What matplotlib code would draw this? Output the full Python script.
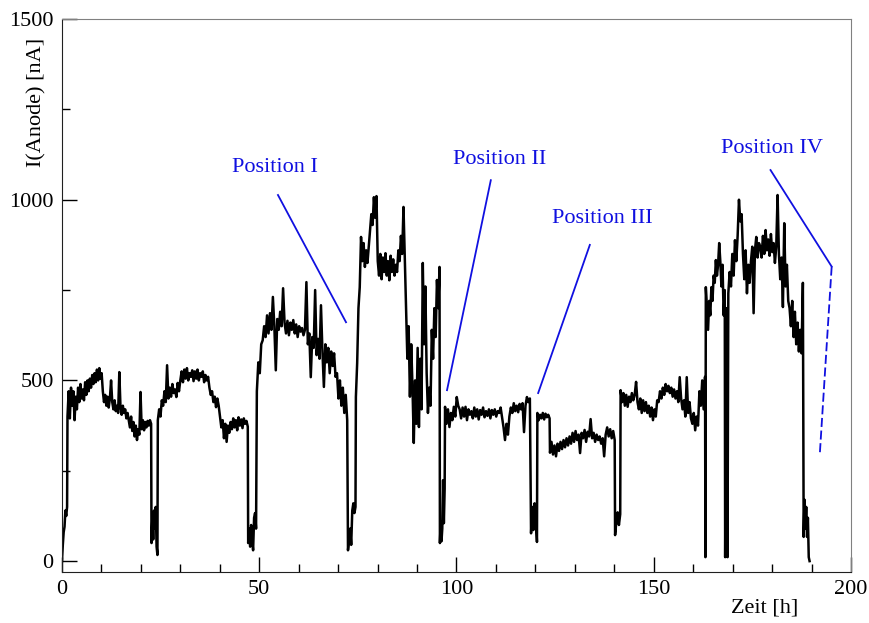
import numpy as np
import matplotlib
matplotlib.use('Agg')
import matplotlib.pyplot as plt
from matplotlib.ticker import MultipleLocator

# Anode current readings.
# Each piece: (start hour, end hour, readings in nA), readings evenly spaced in time.
seg_start = [
    0.0, 1.4, 22.7, 24.3, 47.2, 49.4, 72.5, 74.5, 95.8, 97.1,
    118.9, 120.5, 123.7, 140.2, 141.6, 163.1, 163.2, 168.1, 168.9, 188.0,
]
seg_end = [
    1.3, 22.6, 24.2, 47.1, 49.2, 72.3, 74.4, 95.7, 97.0, 118.6,
    120.4, 123.6, 140.1, 141.5, 163.0, 163.1, 168.0, 168.7, 187.8, 189.5,
]
seg_current = [
    [0, 45, 80, 95, 140, 125, 150],
    [400, 470, 395, 480, 430, 470, 390, 455, 420, 480,
     440, 490, 450, 475, 445, 495, 460, 500, 470,
     505, 480, 515, 490, 520, 495, 530, 500, 534, 505, 520,
     470, 440, 460, 430, 455, 425, 450, 500, 440, 420, 445, 415,
     430, 410, 523, 425, 405, 430, 410, 420, 395, 410,
     390, 370, 400, 360, 385, 345, 375, 335, 365, 350,
     468, 365, 390, 362, 385, 370, 388, 375, 390, 380],
    [50, 120, 60, 140, 90, 150, 40, 17],
    [390, 420, 400, 445, 430, 470, 440,
     542, 450, 480, 455, 490, 465, 475, 454, 493, 470,
     500, 525, 495, 530, 505, 534, 500, 520, 510, 528, 498,
     525, 505, 530, 500, 520, 510, 525, 495, 515, 500, 510,
     480, 460, 470, 440, 455, 426, 450, 430,
     400, 370, 390, 340, 380, 330, 375, 355, 385, 365,
     395, 370, 390, 362, 398, 375, 392, 368, 395, 380, 388, 372],
    [50, 90, 40, 100, 60, 30, 120, 133, 90],
    [470, 550, 520, 600, 611,
     650, 620, 680, 630, 686, 640, 731, 650, 528, 670, 640, 690, 650, 755,
     660, 630, 665, 625, 660, 640, 667, 630, 655, 620, 650, 635, 645, 625,
     640, 772, 600, 630, 509, 620, 590, 750, 570, 615, 560, 708, 580, 482,
     600, 550, 590, 520, 580, 540, 575, 510,
     520, 450, 500, 430, 480, 410, 460, 390],
    [30, 60, 90, 45, 140, 160, 133, 150],
    [454, 548, 700, 758, 897,
     830, 880, 814, 860, 825, 870,
     916, 960, 930, 1007, 950, 1010,
     830, 790, 850, 780, 840, 800, 852, 790, 830, 777, 845, 800, 835, 790, 820, 800,
     860, 830, 900, 850, 980, 840,
     700, 560, 650, 455, 600, 480,
     327, 500, 380, 590, 371, 560, 420,
     825, 600, 760,
     520, 410, 480, 430,
     640, 560, 700, 620, 778, 700, 814],
    [50, 110, 55, 90, 224, 105, 200],
    [427, 380, 420, 371, 410, 390, 427, 400, 454, 430,
     420, 395, 425, 400, 427, 390, 420, 405, 415, 395, 425, 400, 420, 392, 418,
     405, 425, 398, 415, 402, 420, 395, 418, 405, 420, 400, 415, 410, 425, 398,
     370, 335, 380, 350, 400,
     425, 410, 437, 415, 430, 412, 435, 420, 437, 357,
     430, 454, 440, 450],
    [77, 150, 86, 160, 120, 53],
    [410, 390, 405, 395, 410, 392, 408, 398, 405, 395],
    [300, 330, 295, 320, 290, 325, 305, 330, 310, 335, 315, 340, 320,
     345, 325, 355, 330, 360, 335, 350, 299, 355, 340, 363, 330, 358, 345,
     393, 340, 355, 330, 350, 335, 345, 325, 340,
     290, 350, 370, 345, 365, 340, 360, 335],
    [72, 110, 135, 100, 130],
    [473, 440, 465, 430, 460, 427, 455, 440, 465, 445, 460, 496, 440,
     420, 450, 410, 445, 415, 440, 410, 430, 400, 425,
     390, 420, 400, 445,
     440, 470, 450, 480, 460, 490, 470, 485, 465, 480, 455, 475, 450, 470, 440, 509, 450,
     420, 445, 400, 509, 410, 440, 395,
     380, 410, 362, 400, 375,
     470, 430, 500, 420, 510],
    [11],
    [758, 700, 640, 720, 680, 758, 720, 790, 770, 833, 790, 820, 880, 830,
     760, 820, 680, 750],
    [11, 700, 11],
    [741, 800, 760, 850, 790, 888, 830,
     900, 1000, 940, 960,
     850, 780, 860, 741, 820, 770,
     830, 870, 686, 860, 897, 840, 880,
     870, 840, 900, 850, 916, 860, 890, 845, 905, 855, 880, 825, 870,
     1013, 850,
     780, 840, 703, 935, 760, 820, 720,
     700, 650, 720, 620, 690, 600, 660, 580, 640, 575, 770],
    [67, 170, 90, 150, 67, 120, 11, 0],
]

labels = ['Position I', 'Position II', 'Position III', 'Position IV']
label_xy = [(54.0, 1090), (111.0, 1110), (136.9, 949), (180.0, 1143)]
pointer_from = [(54.75, 1013), (108.7, 1054), (133.8, 875), (179.6, 1082)]
pointer_to = [(72.0, 661), (97.6, 473), (120.7, 465), (195.1, 815)]
dashed_to = (192.1, 298)


def main():
    plt.rcParams['font.family'] = ['Liberation Serif', 'DejaVu Serif']

    t = np.concatenate([np.linspace(a, b, len(v))
                        for a, b, v in zip(seg_start, seg_end, seg_current)])
    cur = np.concatenate([np.array(v, dtype=float) for v in seg_current])

    fig = plt.figure(figsize=(8.69, 6.23), dpi=100)
    ax = fig.add_axes([0.0713, 0.0819, 0.908, 0.8876])

    ax.plot(t, cur, color='black', lw=1.8)

    # blue annotations
    for lab, xy, p0, p1 in zip(labels, label_xy, pointer_from, pointer_to):
        ax.text(xy[0], xy[1], lab, color='#1010e0', fontsize=16,
                ha='center', va='center')
        ax.plot([p0[0], p1[0]], [p0[1], p1[1]], color='#1010e0', lw=1.3)
    p = pointer_to[3]
    ax.plot([p[0], dashed_to[0]], [p[1], dashed_to[1]], color='#1010e0',
            lw=1.3, ls=(0, (5, 2)))

    ax.set_xlim(0, 200)
    ax.set_ylim(-30, 1500)
    ax.xaxis.set_major_locator(MultipleLocator(50))
    ax.xaxis.set_minor_locator(MultipleLocator(10))
    ax.yaxis.set_major_locator(MultipleLocator(500))
    ax.yaxis.set_minor_locator(MultipleLocator(250))
    ax.tick_params(which='both', direction='in', labelsize=16, width=1.0,
                   top=False, right=False)
    ax.tick_params(which='major', length=11, pad=6)
    ax.tick_params(which='minor', length=6)

    for side in ['top', 'right']:
        ax.spines[side].set_color('#808080')
    for side in ['left', 'bottom']:
        ax.spines[side].set_color('#202020')

    ax.set_ylabel('I(Anode) [nA]', fontsize=16)
    ax.yaxis.set_label_coords(-0.02, 0.85)
    ax.set_xlabel('Zeit [h]', fontsize=16)
    ax.xaxis.set_label_coords(0.89, -0.048)

    fig.savefig('out.png', dpi=100)


if __name__ == '__main__':
    main()
